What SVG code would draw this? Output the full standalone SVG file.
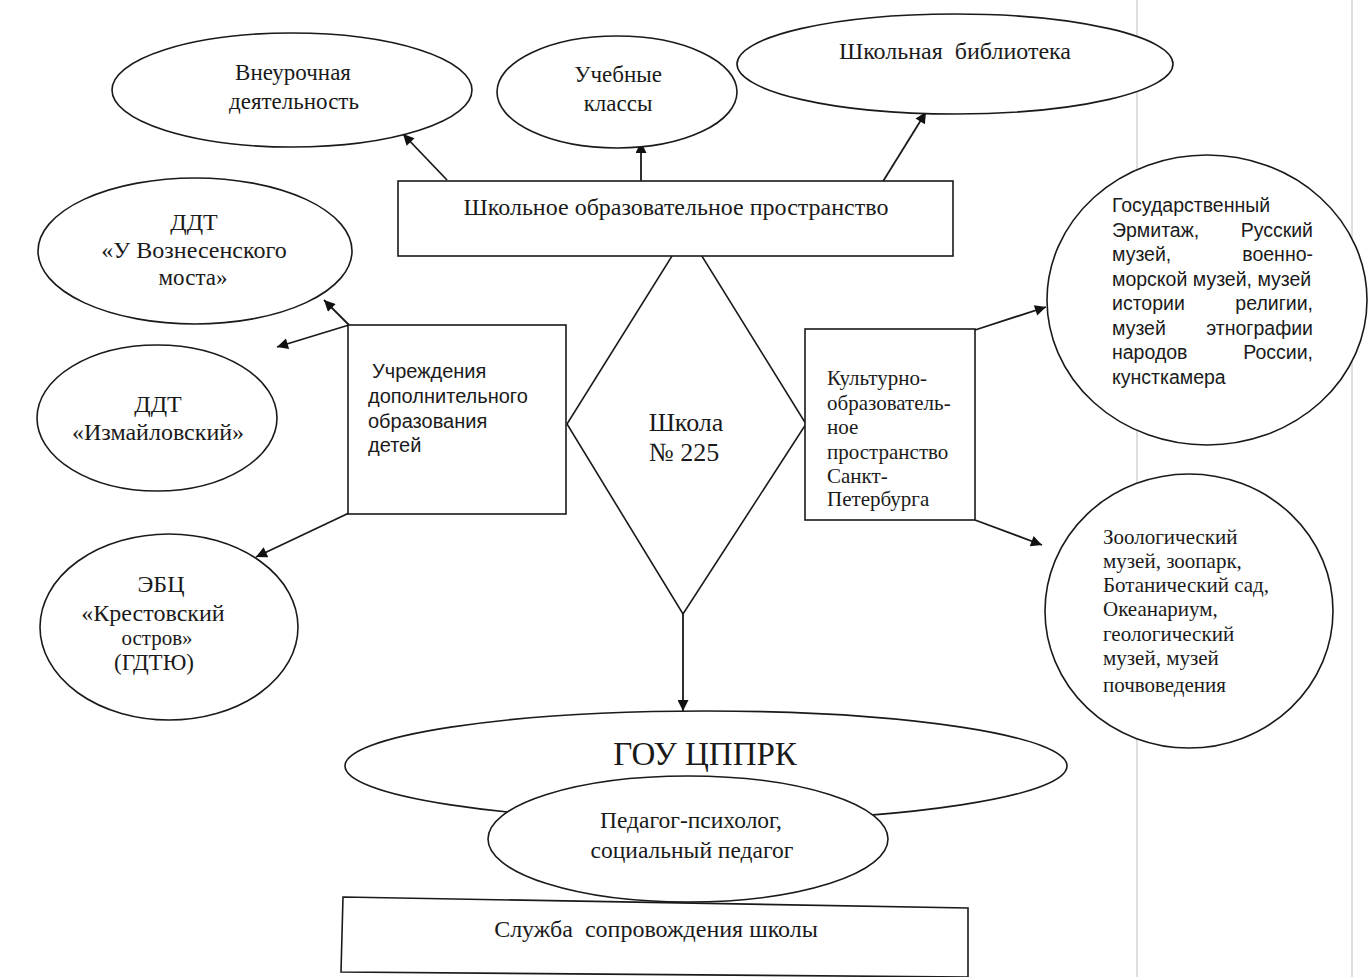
<svg xmlns="http://www.w3.org/2000/svg" width="1368" height="977" viewBox="0 0 1368 977">
<style>
.s{fill:#fff;stroke:#1a1a1a;stroke-width:1.6}
.c{stroke:#1a1a1a;stroke-width:1.8;fill:none}
.t{font-family:"Liberation Serif","Times New Roman",serif;fill:#1a1a1a}
.a{font-family:"Liberation Sans",Arial,sans-serif;fill:#1a1a1a}
.m{text-anchor:middle}
.e{text-anchor:end}
</style>
<defs>
<marker id="ah" viewBox="0 0 10 10" refX="10" refY="5" markerWidth="15" markerHeight="11" orient="auto" markerUnits="userSpaceOnUse"><path d="M0,0 L10,5 L0,10 z" fill="#111"/></marker>
</defs>
<rect width="1368" height="977" fill="#fff"/>
<g id="scan-lines" stroke="#d4d4d4" stroke-width="1.5">
<line x1="1137" y1="0" x2="1137" y2="977"/>
<line x1="1352" y1="0" x2="1352" y2="977"/>
</g>
<g id="connectors">
<line class="c" x1="447" y1="180" x2="403" y2="134" marker-end="url(#ah)"/>
<line class="c" x1="641" y1="183" x2="641" y2="142" marker-end="url(#ah)"/>
<line class="c" x1="882" y1="183" x2="926" y2="112" marker-end="url(#ah)"/>
<line class="c" x1="349" y1="325" x2="324" y2="300" marker-end="url(#ah)"/>
<line class="c" x1="349" y1="325" x2="277" y2="347" marker-end="url(#ah)"/>
<line class="c" x1="349" y1="513" x2="256" y2="557" marker-end="url(#ah)"/>
<line class="c" x1="975" y1="330" x2="1046" y2="307" marker-end="url(#ah)"/>
<line class="c" x1="975" y1="520" x2="1042" y2="545" marker-end="url(#ah)"/>
<line class="c" x1="683" y1="614" x2="683" y2="711" marker-end="url(#ah)"/>
</g>
<g id="school">
<polygon class="s" points="687,232 806,424 683,614 567,424"/>
<text class="t m" font-size="26" x="686" y="431">Школа</text>
<text class="t m" font-size="26" x="684" y="461">№ 225</text>
</g>
<g id="vneurochnaya">
<ellipse class="s" cx="292" cy="90" rx="180" ry="57"/>
<text class="t m" font-size="23" x="293" y="80">Внеурочная</text>
<text class="t m" font-size="23" x="294" y="109">деятельность</text>
</g>
<g id="uchebnye">
<ellipse class="s" cx="617" cy="92" rx="120" ry="56"/>
<text class="t m" font-size="23" x="618" y="82">Учебные</text>
<text class="t m" font-size="23" x="618" y="111">классы</text>
</g>
<g id="biblioteka">
<ellipse class="s" cx="955" cy="64" rx="218" ry="50"/>
<text class="t m" font-size="24" x="955" y="59" xml:space="preserve">Школьная  библиотека</text>
</g>
<g id="shkolnoe">
<rect class="s" x="398" y="181" width="555" height="75"/>
<text class="t m" font-size="24" x="676" y="215">Школьное образовательное пространство</text>
</g>
<g id="ddt-voznesensky">
<ellipse class="s" cx="195" cy="251" rx="157" ry="73"/>
<text class="t m" font-size="24" x="194" y="230">ДДТ</text>
<text class="t m" font-size="24" x="194" y="258">«У Вознесенского</text>
<text class="t m" font-size="23" x="193" y="285">моста»</text>
</g>
<g id="ddt-izmailovsky">
<ellipse class="s" cx="157" cy="418" rx="120" ry="73"/>
<text class="t m" font-size="24" x="158" y="412">ДДТ</text>
<text class="t m" font-size="24" x="158" y="440">«Измайловский»</text>
</g>
<g id="ebc">
<ellipse class="s" cx="169" cy="627" rx="129" ry="93"/>
<text class="t m" font-size="24" x="161" y="592">ЭБЦ</text>
<text class="t m" font-size="24" x="153" y="621">«Крестовский</text>
<text class="t m" font-size="21" x="157" y="645">остров»</text>
<text class="t m" font-size="23" x="154" y="670">(ГДТЮ)</text>
</g>
<g id="uchrezhdeniya">
<rect class="s" x="348" y="325" width="218" height="189"/>
<text class="a" font-size="20" x="372" y="378">Учреждения</text>
<text class="a" font-size="20" x="368" y="403">дополнительного</text>
<text class="a" font-size="20" x="368" y="428">образования</text>
<text class="a" font-size="20" x="368" y="452">детей</text>
</g>
<g id="kulturno">
<rect class="s" x="805" y="329" width="170" height="191"/>
<text class="t" font-size="21" x="827" y="385">Культурно-</text>
<text class="t" font-size="21" x="827" y="410">образователь-</text>
<text class="t" font-size="21" x="827" y="434">ное</text>
<text class="t" font-size="21" x="827" y="459">пространство</text>
<text class="t" font-size="21" x="827" y="483">Санкт-</text>
<text class="t" font-size="21" x="827" y="506">Петербурга</text>
</g>
<g id="ermitazh">
<ellipse class="s" cx="1207" cy="300" rx="160" ry="145"/>
<text class="a" font-size="19.5" x="1112" y="212">Государственный</text>
<text class="a" font-size="19.5" x="1112" y="237">Эрмитаж,</text>
<text class="a e" font-size="19.5" x="1313" y="237">Русский</text>
<text class="a" font-size="19.5" x="1112" y="261">музей,</text>
<text class="a e" font-size="19.5" x="1313" y="261">военно-</text>
<text class="a" font-size="19.5" x="1112" y="286">морской музей, музей</text>
<text class="a" font-size="19.5" x="1112" y="310">истории</text>
<text class="a e" font-size="19.5" x="1313" y="310">религии,</text>
<text class="a" font-size="19.5" x="1112" y="335">музей</text>
<text class="a e" font-size="19.5" x="1313" y="335">этнографии</text>
<text class="a" font-size="19.5" x="1112" y="359">народов</text>
<text class="a e" font-size="19.5" x="1313" y="359">России,</text>
<text class="a" font-size="19.5" x="1112" y="384">кунсткамера</text>
</g>
<g id="zoo">
<ellipse class="s" cx="1189" cy="611" rx="144" ry="137"/>
<text class="t" font-size="21" x="1103" y="544">Зоологический</text>
<text class="t" font-size="21" x="1103" y="568">музей, зоопарк,</text>
<text class="t" font-size="21" x="1103" y="592">Ботанический сад,</text>
<text class="t" font-size="21" x="1103" y="616">Океанариум,</text>
<text class="t" font-size="21" x="1103" y="641">геологический</text>
<text class="t" font-size="21" x="1103" y="665">музей, музей</text>
<text class="t" font-size="21" x="1103" y="692">почвоведения</text>
</g>
<g id="gou-cpprk">
<ellipse class="s" cx="706" cy="766" rx="361" ry="55"/>
<text class="t m" font-size="33" x="705" y="765">ГОУ ЦППРК</text>
</g>
<g id="pedagog">
<ellipse class="s" cx="688" cy="839" rx="200" ry="63"/>
<text class="t m" font-size="23.5" x="691" y="828">Педагог-психолог,</text>
<text class="t m" font-size="23.5" x="692" y="858">социальный педагог</text>
</g>
<g id="sluzhba">
<polygon class="s" points="343,897 968,908 968,977 341,972"/>
<text class="t m" font-size="24" x="656" y="937" xml:space="preserve">Служба  сопровождения школы</text>
</g>
</svg>
